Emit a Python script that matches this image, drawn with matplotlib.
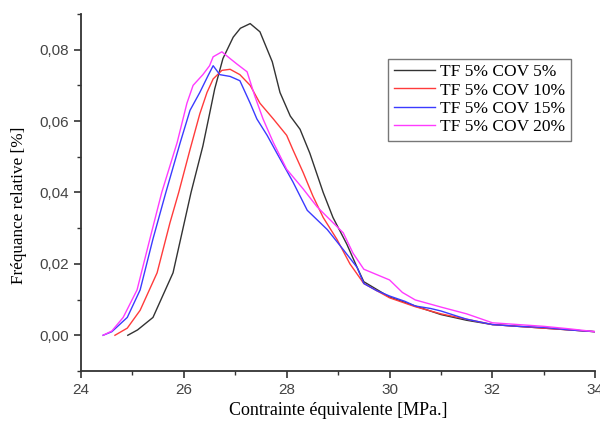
import matplotlib
matplotlib.use("Agg")
import matplotlib.pyplot as plt
from matplotlib.ticker import MultipleLocator, FuncFormatter

# Data
x_cov5 = [24.91, 25.1, 25.4, 25.79, 26.14, 26.37, 26.5, 26.6, 26.76, 26.96, 27.1,
          27.29, 27.48, 27.72, 27.87, 28.07, 28.26, 28.45, 28.71, 28.9, 29.17,
          29.37, 29.5, 30.0, 30.5, 31.0, 31.5, 32.0, 32.5, 33.0, 33.5, 34.0]
y_cov5 = [0.0, 0.0015, 0.005, 0.0175, 0.040, 0.053, 0.062, 0.069, 0.0775, 0.0835,
          0.086, 0.0873, 0.085, 0.0766, 0.068, 0.0614, 0.0577, 0.051, 0.040, 0.033,
          0.0255, 0.019, 0.015, 0.0107, 0.0082, 0.0058, 0.0042, 0.003, 0.0025,
          0.002, 0.0015, 0.001]

x_cov10 = [24.66, 24.9, 25.15, 25.48, 25.73, 25.9, 26.12, 26.31, 26.45, 26.57,
           26.74, 26.9, 27.09, 27.29, 27.48, 27.74, 28.0, 28.12, 28.32, 28.51,
           28.71, 28.98, 29.23, 29.5, 30.0, 30.5, 31.0, 31.5, 32.0, 32.5, 33.0,
           33.5, 34.0]
y_cov10 = [0.0, 0.002, 0.007, 0.0175, 0.0315, 0.040, 0.052, 0.062, 0.068, 0.0718,
           0.0742, 0.0745, 0.073, 0.070, 0.065, 0.0606, 0.056, 0.052, 0.0456,
           0.039, 0.033, 0.0268, 0.020, 0.0145, 0.0105, 0.008, 0.006, 0.0045,
           0.003, 0.0025, 0.002, 0.0015, 0.001]

x_cov15 = [24.43, 24.6, 24.9, 25.15, 25.4, 25.65, 25.93, 26.12, 26.31, 26.47,
           26.57, 26.7, 26.9, 27.09, 27.29, 27.42, 27.62, 27.81, 28.12, 28.4,
           28.79, 29.1, 29.37, 29.5, 29.75, 30.0, 30.3, 30.5, 30.8, 31.0, 31.5,
           32.0, 32.5, 33.0, 33.5, 34.0]
y_cov15 = [0.0, 0.001, 0.005, 0.0127, 0.027, 0.040, 0.054, 0.063, 0.068, 0.0727,
           0.0755, 0.073, 0.0725, 0.0713, 0.065, 0.0606, 0.056, 0.051, 0.043,
           0.035, 0.0296, 0.024, 0.019, 0.0145, 0.0125, 0.011, 0.0095, 0.0082,
           0.0075, 0.0068, 0.0045, 0.003, 0.0025, 0.0022, 0.0015, 0.001]

x_cov20 = [24.43, 24.6, 24.82, 25.09, 25.34, 25.57, 25.87, 26.06, 26.18, 26.37,
           26.5, 26.57, 26.74, 26.9, 27.03, 27.23, 27.38, 27.54, 27.74, 28.0,
           28.32, 28.59, 28.84, 29.1, 29.29, 29.5, 29.75, 30.0, 30.25, 30.5, 31.0,
           31.5, 32.0, 32.5, 33.0, 33.5, 34.0]
y_cov20 = [0.0, 0.0012, 0.005, 0.0127, 0.027, 0.040, 0.054, 0.065, 0.070, 0.073,
           0.0755, 0.078, 0.0794, 0.0775, 0.076, 0.0738, 0.067, 0.0606, 0.054,
           0.0465, 0.041, 0.036, 0.0324, 0.0287, 0.023, 0.0185, 0.017, 0.0155,
           0.012, 0.0099, 0.0079, 0.006, 0.0035, 0.003, 0.0025, 0.0018, 0.001]

series = [
    (x_cov5, y_cov5, "#333333", "TF 5% COV 5%"),
    (x_cov10, y_cov10, "#ff3b3b", "TF 5% COV 10%"),
    (x_cov15, y_cov15, "#3b3bff", "TF 5% COV 15%"),
    (x_cov20, y_cov20, "#ff3bff", "TF 5% COV 20%"),
]

fig = plt.figure(figsize=(6.0, 4.23), dpi=100)
ax = fig.add_axes([0.135, 0.123, 0.857, 0.844])

for xs, ys, col, lab in series:
    ax.plot(xs, ys, color=col, lw=1.0, label=lab)

ax.set_xlim(24, 34)
ax.set_ylim(-0.01, 0.09)
ax.xaxis.set_major_locator(MultipleLocator(2))
ax.xaxis.set_minor_locator(MultipleLocator(1))
ax.yaxis.set_major_locator(MultipleLocator(0.02))
ax.yaxis.set_minor_locator(MultipleLocator(0.01))
ax.yaxis.set_major_formatter(FuncFormatter(lambda v, p: f"{v:.2f}".replace(".", ",")))

for side in ("top", "right"):
    ax.spines[side].set_visible(False)
for side in ("left", "bottom"):
    ax.spines[side].set_linewidth(1.3)
    ax.spines[side].set_color("#333333")

ax.tick_params(which="major", direction="out", length=5, width=1.2,
               colors="#333333", labelsize=11, labelcolor="#444444")
ax.tick_params(which="minor", direction="out", length=3, width=1.0, colors="#333333")
for t in ax.get_xticklabels() + ax.get_yticklabels():
    t.set_family("Liberation Sans")

ax.set_xlabel("Contrainte équivalente [MPa.]", family="Liberation Serif",
              fontsize=13, labelpad=4)
ax.set_ylabel("Fréquance relative [%]", family="Liberation Serif",
              fontsize=12.3)
ax.yaxis.set_label_coords(-0.105, 0.465)

leg = ax.legend(loc="upper left", bbox_to_anchor=(0.597, 0.875),
                prop={"family": "Liberation Serif", "size": 12.5},
                frameon=True, fancybox=False, handlelength=2.4,
                handletextpad=0.3, labelspacing=0.12, borderpad=0.32,
                borderaxespad=0)
leg.get_frame().set_edgecolor("#555555")
leg.get_frame().set_linewidth(1.0)

fig.savefig("out.png", dpi=100)
